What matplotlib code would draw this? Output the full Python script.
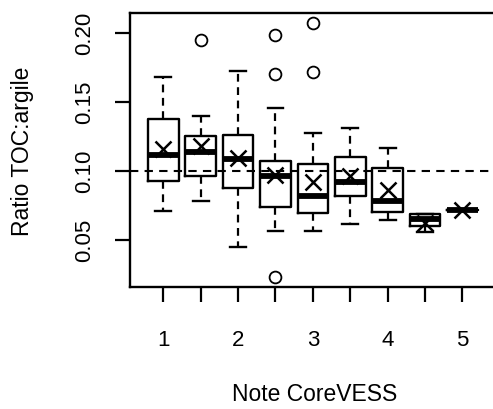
import matplotlib
matplotlib.use("Agg")
import matplotlib.pyplot as plt

plt.rcParams['font.family'] = ['Liberation Sans', 'DejaVu Sans']

# Data
positions = [1, 1.5, 2, 2.5, 3, 3.5, 4, 4.5, 5]
whislo = [0.0710, 0.0778, 0.0447, 0.0561, 0.0561, 0.0614, 0.0643, 0.0558, 0.0712]
q1 = [0.0928, 0.0964, 0.0872, 0.0735, 0.0693, 0.0819, 0.0703, 0.0597, 0.0712]
med = [0.1114, 0.1133, 0.1085, 0.0964, 0.0814, 0.0920, 0.0778, 0.0650, 0.0712]
q3 = [0.1375, 0.1249, 0.1261, 0.1068, 0.1049, 0.1097, 0.1020, 0.0685, 0.0712]
whishi = [0.1680, 0.1394, 0.1725, 0.1454, 0.1271, 0.1309, 0.1162, 0.0685, 0.0712]
means = [0.1157, 0.1181, 0.1090, 0.0970, 0.0916, 0.0964, 0.0860, 0.0620, 0.0712]
fliers = [[], [0.195], [], [0.198, 0.170, 0.0228], [0.207, 0.1713], [], [], [], []]
xtick_labels = ['1', '', '2', '', '3', '', '4', '', '5']
yticks = [0.05, 0.10, 0.15, 0.20]
ytick_labels = ['0.05', '0.10', '0.15', '0.20']
ref_line = 0.10

W, H = 493, 410
fig = plt.figure(figsize=(W / 100, H / 100), dpi=100)
left, right, top, bottom = 130, 500, 14, 288
ax = fig.add_axes([left / W, 1 - bottom / H, (right - left) / W, (bottom - top) / H])

stats = []
for i in range(len(positions)):
    stats.append(dict(whislo=whislo[i], q1=q1[i], med=med[i], q3=q3[i],
                      whishi=whishi[i], mean=means[i], fliers=fliers[i]))

ax.axhline(ref_line, color='black', lw=1.5, ls=(0, (4, 3)), zorder=1)

ax.bxp(stats, positions=positions, widths=0.41, capwidths=0.21,
       showmeans=True, patch_artist=False, manage_ticks=False,
       boxprops=dict(color='black', lw=1.7),
       whiskerprops=dict(color='black', lw=1.6, ls=(0, (3.5, 2.5))),
       capprops=dict(color='black', lw=1.7),
       medianprops=dict(color='black', lw=4.2, solid_capstyle='butt'),
       meanprops=dict(marker='x', markeredgecolor='black', markersize=11,
                      markeredgewidth=1.8, linestyle='none'),
       flierprops=dict(marker='o', markerfacecolor='none', markeredgecolor='black',
                       markersize=8.5, markeredgewidth=1.3))

ax.set_xlim(0.555, 1 + (right - 163.3) / 74.8)
ax.set_ylim(0.0157, 0.2143)

ax.set_xticks(positions)
ax.set_xticklabels(xtick_labels, fontsize=16)
ax.set_yticks(yticks)
ax.set_yticklabels(ytick_labels, fontsize=16, rotation=90, va='center')
ax.tick_params(axis='both', direction='out', length=11, width=1.6, color='black')
ax.tick_params(axis='x', pad=19)
ax.tick_params(axis='y', pad=14)

for s in ['left', 'top', 'bottom', 'right']:
    ax.spines[s].set_linewidth(1.7)
    ax.spines[s].set_color('black')

fig.text(315 / W, 1 - 395 / H, 'Note CoreVESS', fontsize=16.5, ha='center', va='center')
fig.text(23 / W, 1 - 151 / H, 'Ratio TOC:argile', fontsize=16.5, ha='center', va='center',
         rotation=90)

fig.savefig('out.png', dpi=100)
